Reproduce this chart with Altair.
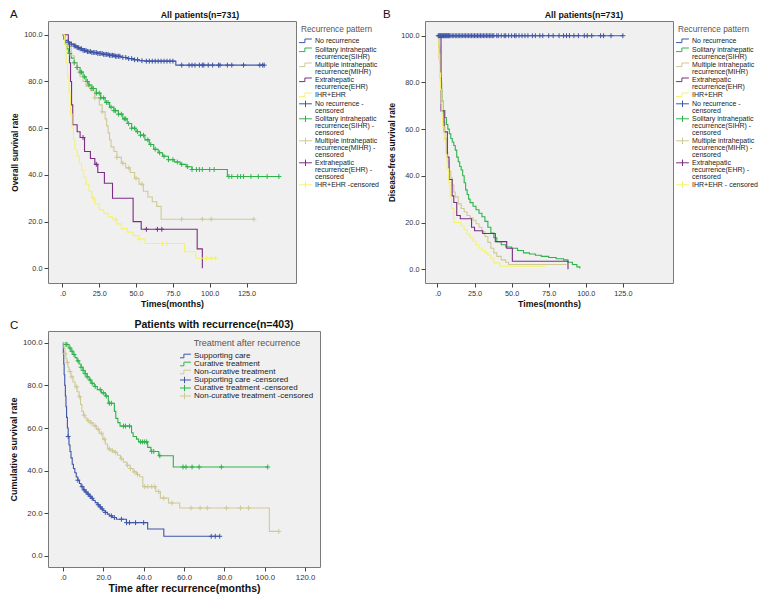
import altair as alt
import pandas as pd

FONT = "Liberation Sans"

BLUE = "#3d55a8"
GREEN = "#2db34a"
TAN = "#cfc995"
PURPLE = "#7d2c85"
YELLOW = "#f5f26a"

# ---------------- Panel A : overall survival ----------------
A_NR_T = [0, 1, 2, 4, 6, 8, 10, 12, 14, 17, 20, 24, 28, 32, 36, 40, 44, 48, 52, 56, 77, 137]
A_NR_S = [100, 98.5, 97.5, 96.8, 96, 95.2, 94.5, 94, 93.3, 92.8, 92.4, 92, 91.6, 91.2, 90.8, 90.3, 89.8, 89.3, 88.9, 88.7, 87, 87]
A_NR_C = [4, 6, 8, 9, 10, 11, 12, 13, 14, 15, 16, 17, 18, 19, 20, 21, 22, 23, 24, 25, 26, 27, 28, 29, 30, 31, 32, 33, 34, 35,
          36, 37, 38, 39, 41, 43, 45, 47, 49, 51, 54, 57, 59, 61, 63, 65, 67, 69, 71, 73, 75, 81, 86, 88, 90, 93, 95, 96, 99,
          102, 106, 107, 112, 115, 123, 134, 136, 137]

A_SIHR_T = [0, 1, 2, 3, 4, 6, 8, 10, 12, 14, 16, 18, 20, 23, 26, 29, 32, 35, 38, 41, 44, 47, 50, 53, 56, 59, 62, 65, 68, 72, 76, 80, 84, 88, 112, 147]
A_SIHR_S = [100, 98, 96, 94, 92, 90, 88, 86, 84, 82, 80, 78.5, 77, 75, 73, 71, 69, 67.5, 66, 64, 62, 60, 58.5, 57, 55, 53, 51, 49.5, 48, 46.5, 45.5, 44.5, 43.5, 42.3, 39.3, 39.3]
A_SIHR_C = [5, 8, 10, 12, 13, 15, 17, 18, 20, 21, 23, 25, 26, 28, 30, 31, 33, 35, 36, 38, 40, 42, 43, 45, 47, 49, 51, 53, 55, 58,
            60, 63, 66, 69, 72, 75, 78, 81, 85, 88, 91, 93, 95, 100, 103, 113, 115, 119, 121, 123, 128, 133, 139, 147]

A_MIHR_T = [0, 2, 4, 6, 8, 10, 12, 14, 16, 19, 22, 25, 27, 29, 30, 31, 32, 33, 35, 37, 40, 43, 46, 49, 52, 55, 58, 61, 64, 67, 130]
A_MIHR_S = [100, 98, 95, 91, 88, 85, 82, 80, 78, 76, 73, 70, 67, 64, 61, 58, 55, 52, 50, 47.5, 45, 43, 41, 38.5, 36, 33, 30.5, 28.5, 26.5, 21, 21]
A_MIHR_C = [22, 27, 37, 41, 45, 50, 54, 81, 95, 101, 130]

A_EHR_T = [0, 4, 4.8, 5.5, 6.2, 7, 10, 12, 15, 19, 22, 24, 28.5, 34, 48, 53.5, 91.5, 95]
A_EHR_S = [100, 97, 88, 80, 70, 61.5, 58.5, 56, 50, 47, 44.5, 41, 36.4, 30, 20, 16.7, 8.3, 0]
A_EHR_C = [14, 23, 57, 64.5, 67.5]

A_IE_T = [0, 1.5, 2.5, 3.5, 4.5, 5.5, 6.5, 7.5, 8.5, 10, 11.5, 13, 14.5, 16, 18, 20, 22, 25, 28, 31, 34, 37, 40, 44, 48, 52, 56, 83, 90.5, 104]
A_IE_S = [100, 96, 88, 82, 75, 66, 60, 55, 51, 48, 45, 42, 39, 36, 33, 30, 27.5, 25, 23.5, 22, 21, 19, 17, 15.5, 14, 12.5, 10.6, 7.1, 4.3, 4.3]
A_IE_C = [21, 36, 52, 68, 71, 98, 101, 104]

# ---------------- Panel B : disease-free survival ----------------
B_NR_T = [0, 125]
B_NR_S = [100, 100]
B_NR_C = [0.5, 1, 1.5, 2, 2.5, 3, 3.5, 4, 4.5, 5, 5.5, 6, 6.5, 7, 7.5, 8, 9, 10, 11, 12, 13, 14, 15, 16, 17, 18, 19, 20, 21,
          22, 23, 24, 25, 26, 27, 28, 29, 30, 31, 32, 33, 34, 35, 36, 37, 38, 40, 41, 43, 45, 46, 48, 50, 52, 53, 55, 57, 59,
          61, 64, 66, 69, 71, 75, 78, 82, 85, 87, 89, 92, 95, 99, 101, 104, 110, 112, 117, 125]

B_SIHR_T = [0, 1, 1.5, 2, 2.5, 3, 4, 5, 6, 7, 8, 9, 10, 11, 12, 13, 14, 15, 16, 17, 18, 19, 20, 21, 22, 24, 26, 28, 30, 32,
            34, 36, 38, 40, 43, 46, 50, 54, 58, 62, 66, 70, 75, 80, 85, 88, 91, 94, 96]
B_SIHR_S = [100, 95, 88, 82, 77, 72, 68, 65, 62, 60, 58, 56, 54.5, 53, 51, 48, 46, 44, 42.5, 40, 37, 34, 32, 30, 28.5, 27,
            25.5, 24, 22.5, 20.5, 18, 15.5, 13.5, 11.8, 10.5, 9.5, 9, 8, 7, 6.5, 6, 5.5, 5, 4.5, 4, 3, 2, 1, 0.3]

B_MIHR_T = [0, 1, 2, 3, 4, 5, 6, 7, 8, 9, 10, 11, 12, 14, 16, 18, 20, 22, 24, 26, 28, 30, 32, 34, 36, 38, 40, 43, 46, 48, 87]
B_MIHR_S = [100, 90, 80, 72, 63, 56, 50, 46, 42, 39, 36, 33, 31, 28, 26, 24.5, 23, 22, 21, 19.5, 18, 16, 14, 11.5, 9, 7, 5.5, 4, 3, 2, 2]

B_EHR_T = [0, 2.4, 4.5, 6.7, 7.8, 9.9, 11, 13, 15.4, 23, 25, 30.5, 39, 46.7, 50.5, 88]
B_EHR_S = [100, 67.8, 58.8, 48, 38.4, 31.4, 28.6, 23, 21.6, 18, 16.5, 15.3, 11.8, 9, 3.4, 0]

B_IE_T = [0, 1, 1.5, 2, 2.5, 3, 3.5, 4.5, 5.5, 6.5, 7.5, 8.5, 9.5, 11, 16, 18, 20, 22, 24, 26, 28, 30, 32, 34, 36, 38, 42, 73]
B_IE_S = [100, 92, 84, 77, 71, 66, 61, 55, 49, 43, 37, 31, 26, 20, 18.5, 17, 15, 13.5, 12, 10.5, 9, 8, 7, 6, 4.5, 2.7, 1.3, 1.3]

# ---------------- Panel C : survival after recurrence ----------------
C_SC_T = [0, 0.2, 0.4, 0.6, 0.9, 1.2, 1.5, 1.8, 2.2, 2.6, 3.0, 3.5, 4.0, 4.6, 5.2, 5.9, 6.6, 7.4, 8.2, 9.0, 10.0, 11.0,
          12.0, 13.0, 14.0, 15.0, 16.0, 17.0, 18.0, 19.0, 20.0, 21.0, 22.0, 23.0, 24.5, 26.5, 31.5, 42.0, 50.0, 77.7]
C_SC_S = [100, 95, 90, 85, 80, 75, 70, 65, 60, 56, 52, 49, 46, 43, 41, 39, 37, 35.5, 34, 32.5, 31, 30, 29, 28, 27, 26, 25,
          24, 23, 22, 21.2, 20.4, 19.6, 18.8, 18, 17.2, 15.6, 12.6, 9.2, 9.2]
C_SC_C = [2.6, 7.4, 9.5, 10.5, 11.5, 12.5, 13.5, 14.5, 17.5, 18.5, 19.5, 21, 24, 25.5, 29, 31.5, 33, 36, 40, 73.5, 75.5, 77.7]

C_CT_T = [0, 0.3, 3.0, 4.0, 5.0, 6.0, 7.0, 8.0, 9.0, 10.0, 11.0, 12.0, 13.0, 14.0, 15.5, 17.0, 19.0, 21.0, 22.5, 25.5,
          26.2, 27.2, 28.3, 34.0, 34.8, 36.5, 37.5, 42.0, 43.6, 47.5, 54.7, 101.5]
C_CT_S = [100, 99.2, 97.5, 96, 94.5, 93, 91.5, 90, 88.5, 87, 85.5, 84, 82.5, 81, 79.5, 78, 76.5, 75, 71.6, 67.8, 64.5, 62.5,
          60.9, 57.8, 56, 54.8, 53.5, 50.9, 49, 47, 41.7, 41.7]
C_CT_C = [1.5, 2, 3.5, 4.5, 5.5, 7.5, 9, 10, 11, 12, 13.5, 14.5, 16, 18.5, 20, 21.5, 23, 24, 30, 31, 33, 38.5, 39.5, 40.5,
          41.5, 44, 45, 48, 59.5, 61, 64, 67.5, 78.5, 101.5]

C_NC_T = [0, 0.5, 1.0, 1.5, 2.0, 2.5, 3.0, 4.0, 5.0, 6.0, 7.0, 8.0, 8.7, 9.4, 10.2, 11.0, 12.0, 13.4, 15.0, 16.6, 18.0,
          19.8, 21.0, 22.1, 23.5, 25.3, 27.0, 28.5, 30.0, 31.7, 33.3, 34.8, 36.5, 38.0, 39.6, 46.0, 48.3, 52.3, 57.9, 102.3, 107.0]
C_NC_S = [100, 97.5, 95, 92.5, 90.8, 88.5, 86.5, 84, 81.6, 79.3, 77, 74.7, 71, 67.8, 66, 64.7, 63.5, 62.4, 61, 59.4, 57.5,
          54.8, 52.5, 50.2, 49.4, 48.6, 47.2, 45.6, 44, 42.5, 41, 39.4, 38.2, 37.1, 32.5, 30.2, 27.1, 24.8, 22.5, 11.5, 11.5]
C_NC_C = [1, 2.2, 3.5, 4.5, 6.8, 8.3, 10.5, 12.5, 14, 16, 17.5, 19, 20.5, 23, 24.5, 26, 29, 32, 33.5, 35.5, 37, 40.5, 42,
          44, 45.5, 47.5, 50, 54, 63.5, 68, 71.5, 81, 88, 92, 107]

# legend entries ("|" = line break)
A_LABELS = ["No recurrence", "Solitary intrahepatic|recurrence(SIHR)", "Multiple intrahepatic|recurrence(MIHR)",
            "Extrahepatic|recurrence(EHR)", "IHR+EHR", "No recurrence -|censored",
            "Solitary intrahepatic|recurrence(SIHR) -|censored", "Multiple intrahepatic|recurrence(MIHR) -|censored",
            "Extrahepatic|recurrence(EHR) -|censored", "IHR+EHR -censored"]
B_LABELS = A_LABELS[:9] + ["IHR+EHR - censored"]
C_LABELS = ["Supporting care", "Curative treatment", "Non-curative treatment", "Supporting care -censored",
            "Curative treatment -censored", "Non-curative treatment -censored"]

FIVE = [BLUE, GREEN, TAN, PURPLE, YELLOW]
THREE = [BLUE, GREEN, TAN]

STEP = "M-1.6,0.45H-0.15V-0.45H1.6"
CROSS = "M-1.6,0H1.6M0,-0.8V0.8"
CENS = "M-1,0H1M0,-1V1"


def step_value(ts, ss, t):
    v = ss[0]
    for ti, si in zip(ts, ss):
        if ti <= t:
            v = si
    return v


def km_panel(curves, censors, labels, colors, shapes, xdom, ydom, xvals, w, h, title, title_size,
             title_dx, xtitle, ytitle, xt_size, yt_size, lab_size, letter, legend):
    line_rows, cens_rows = [], []
    for lab, T, S in curves:
        for k, (t, s) in enumerate(zip(T, S)):
            line_rows.append({"t": t, "s": s, "entry": lab, "k": k})
    for lab, C, T, S in censors:
        for c in C:
            cens_rows.append({"t": c, "s": step_value(T, S, c), "entry": lab})
    leg_rows = [{"t": 0, "s": 50, "entry": lab} for lab in labels]

    xenc = alt.X("t:Q", scale=alt.Scale(domain=xdom, nice=False, zero=False),
                 axis=alt.Axis(values=xvals, title=xtitle, titleFontSize=xt_size, labelFontSize=lab_size,
                               labelExpr="datum.value == 0 ? '.0' : format(datum.value, '.1f')"))
    yenc = alt.Y("s:Q", scale=alt.Scale(domain=ydom, nice=False, zero=False),
                 axis=alt.Axis(values=[0, 20, 40, 60, 80, 100], format=".1f", title=ytitle,
                               titleFontSize=yt_size, labelFontSize=lab_size))
    color = alt.Color("entry:N", scale=alt.Scale(domain=labels, range=colors), legend=legend)
    shape = alt.Shape("entry:N", scale=alt.Scale(domain=labels, range=shapes), legend=legend)

    lines = alt.Chart(pd.DataFrame(line_rows)).mark_line(
        interpolate="step-after", strokeWidth=1.1, clip=True).encode(x=xenc, y=yenc, color=color, order="k:Q")
    layers = [lines]
    if cens_rows:
        cens = alt.Chart(pd.DataFrame(cens_rows)).mark_point(
            shape=CENS, size=24, filled=False, strokeWidth=1, opacity=1, clip=True).encode(x=xenc, y=yenc, color=color)
        layers.append(cens)
    leg = alt.Chart(pd.DataFrame(leg_rows)).mark_point(filled=False, opacity=0).encode(
        x=xenc, y=yenc, color=color, shape=shape)
    layers.append(leg)
    let = alt.Chart(pd.DataFrame({"txt": [letter[0]]})).mark_text(
        align="left", baseline="alphabetic", fontSize=11.5, font=FONT, color="#111").encode(
        x=alt.value(letter[1]), y=alt.value(letter[2]), text="txt:N")
    layers.append(let)
    ttl = alt.Chart(pd.DataFrame({"txt": [title]})).mark_text(
        align="center", baseline="alphabetic", fontSize=title_size, fontWeight="bold", font=FONT,
        color="#111").encode(x=alt.value(w / 2 + title_dx), y=alt.value(-3), text="txt:N")
    layers.append(ttl)
    return alt.layer(*layers).properties(width=w, height=h)


def side_legend(title, w):
    return alt.Legend(title=title, orient="none", legendX=w + 5, legendY=4,
                      labelExpr="split(datum.label, '|')", titleFontSize=8.3, titleFontWeight="normal",
                      titleColor="#555", titleFont=FONT, labelFont=FONT, labelFontSize=7, labelColor="#222",
                      symbolSize=64, symbolStrokeWidth=1, symbolOpacity=1, symbolFillColor="transparent",
                      rowPadding=-1, labelOffset=5, titlePadding=3, labelLimit=130)


WA, HA = 248, 262
WC, HC = 272, 236

panelA = km_panel(
    curves=[(A_LABELS[0], A_NR_T, A_NR_S), (A_LABELS[1], A_SIHR_T, A_SIHR_S), (A_LABELS[2], A_MIHR_T, A_MIHR_S),
            (A_LABELS[3], A_EHR_T, A_EHR_S), (A_LABELS[4], A_IE_T, A_IE_S)],
    censors=[(A_LABELS[5], A_NR_C, A_NR_T, A_NR_S), (A_LABELS[6], A_SIHR_C, A_SIHR_T, A_SIHR_S),
             (A_LABELS[7], A_MIHR_C, A_MIHR_T, A_MIHR_S), (A_LABELS[8], A_EHR_C, A_EHR_T, A_EHR_S),
             (A_LABELS[9], A_IE_C, A_IE_T, A_IE_S)],
    labels=A_LABELS, colors=FIVE + FIVE, shapes=[STEP] * 5 + [CROSS] * 5,
    xdom=[-9.8, 158.6], ydom=[-6.3, 105.9], xvals=[0, 25, 50, 75, 100, 125], w=WA, h=HA,
    title="All patients(n=731)", title_size=8.8, title_dx=28,
    xtitle="Times(months)", ytitle="Overall survival rate", xt_size=8.8, yt_size=8.2, lab_size=7.3,
    letter=("A", -38, -3), legend=side_legend("Recurrence pattern", WA))

panelB = km_panel(
    curves=[(B_LABELS[0], B_NR_T, B_NR_S), (B_LABELS[1], B_SIHR_T, B_SIHR_S), (B_LABELS[2], B_MIHR_T, B_MIHR_S),
            (B_LABELS[3], B_EHR_T, B_EHR_S), (B_LABELS[4], B_IE_T, B_IE_S)],
    censors=[(B_LABELS[5], B_NR_C, B_NR_T, B_NR_S)],
    labels=B_LABELS, colors=FIVE + FIVE, shapes=[STEP] * 5 + [CROSS] * 5,
    xdom=[-8.4, 158.8], ydom=[-5.9, 106.3], xvals=[0, 25, 50, 75, 100, 125], w=WA, h=HA,
    title="All patients(n=731)", title_size=8.8, title_dx=35,
    xtitle="Times(months)", ytitle="Disease-free survival rate", xt_size=8.8, yt_size=8.2, lab_size=7.3,
    letter=("B", -42, -3), legend=side_legend("Recurrence pattern", WA))

legC = alt.Legend(title="Treatment after recurrence", orient="none", legendX=132, legendY=8,
                  titleFontSize=9, titleFontWeight="normal", titleColor="#555", titleFont=FONT, titleAnchor="middle",
                  labelFont=FONT, labelFontSize=8, labelColor="#222", symbolSize=64, symbolStrokeWidth=1,
                  symbolOpacity=1, symbolFillColor="transparent", rowPadding=0, clipHeight=8, labelOffset=5,
                  titlePadding=4, labelLimit=200)

panelC = km_panel(
    curves=[(C_LABELS[0], C_SC_T, C_SC_S), (C_LABELS[1], C_CT_T, C_CT_S), (C_LABELS[2], C_NC_T, C_NC_S)],
    censors=[(C_LABELS[3], C_SC_C, C_SC_T, C_SC_S), (C_LABELS[4], C_CT_C, C_CT_T, C_CT_S),
             (C_LABELS[5], C_NC_C, C_NC_T, C_NC_S)],
    labels=C_LABELS, colors=THREE + THREE, shapes=[STEP] * 3 + [CROSS] * 3,
    xdom=[-7.4, 127.4], ydom=[-5.2, 105.5], xvals=[0, 20, 40, 60, 80, 100, 120], w=WC, h=HC,
    title="Patients with recurrence(n=403)", title_size=10.5, title_dx=30,
    xtitle="Time after recurrence(months)", ytitle="Cumulative survival rate", xt_size=10.5, yt_size=9,
    lab_size=7.8, letter=("C", -38, -2), legend=legC)

chart = alt.concat(panelA, panelB, panelC, columns=2, spacing={"row": 48, "column": 105},
                   bounds="flush", padding=0
).resolve_scale(x="independent", y="independent", color="independent", shape="independent"
).resolve_legend(color="independent", shape="independent"
).configure(font=FONT, style={"guide-label": {"lineHeight": 7.0}}
).configure_view(fill="#f0f0f0", stroke="#7a7a7a", strokeWidth=1
).configure_axis(grid=False, domain=False, tickColor="#444", tickSize=4, labelColor="#333", labelFont=FONT,
                 titleFont=FONT, titleFontWeight="bold", titleColor="#111", labelPadding=2
).configure_axisX(titlePadding=3).configure_axisY(titlePadding=4)

chart.save("out.html", embed_options={"renderer": "svg", "actions": False})
